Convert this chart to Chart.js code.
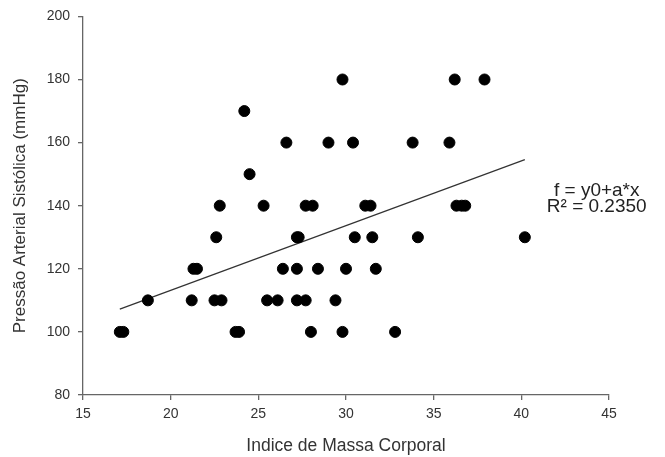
<!DOCTYPE html>
<html>
<head>
<meta charset="utf-8">
<script src="https://cdn.jsdelivr.net/npm/chart.js@4.4.1/dist/chart.umd.min.js"></script>
<style>
  html, body { margin: 0; padding: 0; background: #fff; }
  #wrap { width: 665px; height: 457px; }
</style>
</head>
<body>
<div id="wrap"><canvas id="chart" width="665" height="457"></canvas></div>
<script>
// 読み取ったデータ（IMC と収縮期血圧）
const imc = [
  17.1, 17.3, 23.7, 23.9, 28.0, 29.8, 32.8,
  18.7, 21.2, 22.5, 22.9, 25.5, 26.1, 27.2, 27.7, 29.4,
  21.3, 21.5, 26.4, 27.2, 28.4, 30.0, 31.7,
  22.6, 27.2, 27.3, 30.5, 31.5, 34.1, 40.2,
  22.8, 25.3, 27.7, 28.1, 31.1, 31.4, 36.3, 36.6, 36.8,
  24.5,
  26.6, 29.0, 30.4, 33.8, 35.9,
  24.2,
  29.8, 36.2, 37.9,
];
const pressao = [
  100, 100, 100, 100, 100, 100, 100,
  110, 110, 110, 110, 110, 110, 110, 110, 110,
  120, 120, 120, 120, 120, 120, 120,
  130, 130, 130, 130, 130, 130, 130,
  140, 140, 140, 140, 140, 140, 140, 140, 140,
  150,
  160, 160, 160, 160, 160,
  170,
  180, 180, 180,
];

// 回帰直線の両端
const fitX = [17.1, 40.2];
const fitY = [107.2, 154.6];

// 目盛り
const xTicks = [15, 20, 25, 30, 35, 40, 45];
const yTicks = [80, 100, 120, 140, 160, 180, 200];

// 式の注釈
const eqLines = ["f = y0+a*x", "R² = 0.2350"];
const eqPos = { x: 44.3, y: [144.6, 139.6] };

const points = imc.map((x, i) => ({ x: x, y: pressao[i] }));
const fitPoints = fitX.map((x, i) => ({ x: x, y: fitY[i] }));

const FONT = "'Liberation Sans', Arial, sans-serif";
const AXIS = "#666";
const TEXT = "#333";

// 注釈テキストを描くプラグイン
const eqPlugin = {
  id: "eqText",
  afterDraw(chart) {
    const ctx = chart.ctx;
    const sx = chart.scales.x;
    const sy = chart.scales.y;
    ctx.save();
    ctx.fillStyle = "#222";
    ctx.font = "19px " + FONT;
    ctx.textAlign = "center";
    ctx.textBaseline = "middle";
    eqLines.forEach((t, i) => {
      ctx.fillText(t, sx.getPixelForValue(eqPos.x), sy.getPixelForValue(eqPos.y[i]));
    });
    ctx.restore();
  },
};

new Chart(document.getElementById("chart"), {
  type: "scatter",
  data: {
    datasets: [
      {
        label: "dados",
        data: points,
        backgroundColor: "#000",
        borderColor: "#000",
        pointRadius: 5.5,
        pointHoverRadius: 5.5,
      },
      {
        label: "ajuste",
        type: "line",
        data: fitPoints,
        borderColor: "#333",
        borderWidth: 1.2,
        pointRadius: 0,
        fill: false,
      },
    ],
  },
  options: {
    responsive: false,
    animation: false,
    layout: { padding: { top: 16, right: 56, left: 0, bottom: 0 } },
    plugins: {
      legend: { display: false },
      tooltip: { enabled: false },
    },
    scales: {
      x: {
        type: "linear",
        min: 15,
        max: 45,
        afterBuildTicks: (s) => { s.ticks = xTicks.map((v) => ({ value: v })); },
        afterFit: (s) => { s.height = 62; },
        border: { display: true, color: AXIS, width: 1.3 },
        grid: { drawOnChartArea: false, drawTicks: true, tickLength: 5, color: AXIS, lineWidth: 1.3 },
        ticks: { color: TEXT, font: { family: FONT, size: 14 }, padding: 6 },
        title: {
          display: true,
          text: "Indice de Massa Corporal",
          color: TEXT,
          font: { family: FONT, size: 17.5 },
          padding: { top: 10, bottom: 0 },
        },
      },
      y: {
        type: "linear",
        min: 80,
        max: 200,
        afterBuildTicks: (s) => { s.ticks = yTicks.map((v) => ({ value: v })); },
        afterFit: (s) => { s.width = 83; },
        border: { display: true, color: AXIS, width: 1.3 },
        grid: { drawOnChartArea: false, drawTicks: true, tickLength: 5, color: AXIS, lineWidth: 1.3 },
        ticks: { color: TEXT, font: { family: FONT, size: 14 }, padding: 8 },
        title: {
          display: true,
          text: "Pressão Arterial Sistólica (mmHg)",
          color: TEXT,
          font: { family: FONT, size: 17 },
          padding: { top: 10, bottom: 0 },
        },
      },
    },
  },
  plugins: [eqPlugin],
});
</script>
</body>
</html>
